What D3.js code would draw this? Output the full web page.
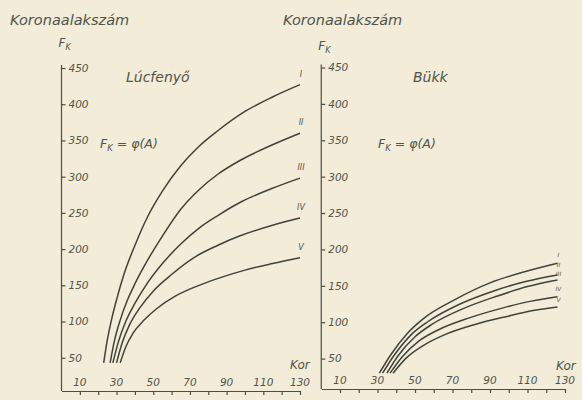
<!DOCTYPE html>
<html>
<head>
<meta charset="utf-8">
<script src="https://cdn.jsdelivr.net/npm/d3@7"></script>
<style>
  body { margin: 0; background: #f2ecd8; }
  svg { display: block; }
  text { font-family: "DejaVu Sans", sans-serif; font-style: italic; fill: #50554b; }
  .axis path, .axis line { stroke: #4a4e45; stroke-width: 1.2; }
  .axis text { font-size: 10.5px; fill: #50554b; }
  .curve { fill: none; stroke: #3f433b; stroke-width: 1.5; }
</style>
</head>
<body>
<div id="chart"></div>
<script>

// curve names (site classes)
var curveNames = ["I", "II", "III", "IV", "V"];

// Lúcfenyő: [age, Fk]
var lucI   = [[23, 43], [25, 75], [27.5, 105], [30, 130], [34, 165], [40, 205], [47, 245], [55, 280], [65, 315], [75, 342], [85, 363], [100, 390], [115, 410], [130, 427]];
var lucII  = [[26.5, 43], [29, 75], [32, 102], [36, 130], [40, 152], [47, 185], [55, 218], [65, 255], [75, 282], [85, 303], [97, 322], [115, 344], [130, 360]];
var lucIII = [[28, 43], [31, 72], [35, 100], [40, 125], [46, 150], [55, 180], [65, 207], [75, 229], [85, 246], [97, 264], [115, 284], [130, 298]];
var lucIV  = [[30, 43], [33, 70], [37, 95], [43, 120], [50, 142], [60, 165], [72, 188], [85, 205], [97, 218], [115, 233], [130, 243]];
var lucV   = [[32, 43], [35, 65], [39, 84], [45, 102], [52, 118], [62, 135], [75, 150], [87, 161], [100, 171], [115, 180], [130, 188]];

// Bükk: [age, Fk]
var bukI   = [[31, 30], [37, 55], [46, 85], [54, 104], [72, 132], [90, 154], [108, 169], [126, 181]];
var bukII  = [[32.7, 30], [39, 55], [48, 83], [57, 101], [74, 125], [92, 143], [109, 156], [126, 165]];
var bukIII = [[35, 30], [41, 54], [50, 80], [59, 97], [76, 119], [94, 136], [110, 149], [126, 158]];
var bukIV  = [[36.7, 30], [43, 52], [52, 74], [62, 89], [79, 106], [96, 119], [112, 129], [126, 135]];
var bukV   = [[38.3, 30], [45, 50], [55, 69], [65, 82], [82, 97], [99, 108], [113, 116], [126, 121]];

var yTicks = [50, 100, 150, 200, 250, 300, 350, 400, 450];
var xTicks = [10, 20, 30, 40, 50, 60, 70, 80, 90, 100, 110, 120, 130];
var xLabels = [10, 30, 50, 70, 90, 110, 130];

var svg = d3.select('#chart').append('svg')
  .attr('width', 582)
  .attr('height', 400);

svg.append('rect').attr('width', 582).attr('height', 400).attr('fill', '#f2ecd8');

function drawPanel(opts) {
  var x = d3.scaleLinear().domain([0, 130]).range(opts.xRange);
  var y = d3.scaleLinear().domain([0, 450]).range(opts.yRange);
  var g = svg.append('g');

  // y axis
  g.append('g')
    .attr('class', 'axis')
    .attr('transform', 'translate(' + x(0) + ',0)')
    .call(d3.axisRight(y).tickValues(yTicks).tickSize(4).tickPadding(3).tickSizeOuter(0))
    .select('.domain').remove();
  g.append('line')
    .attr('x1', x(0)).attr('x2', x(0))
    .attr('y1', y(450) - 3).attr('y2', opts.axisY)
    .attr('stroke', '#4a4e45').attr('stroke-width', 1.2);

  // x axis, labels sit above the line
  g.append('g')
    .attr('class', 'axis')
    .attr('transform', 'translate(0,' + opts.axisY + ')')
    .call(d3.axisBottom(x).tickValues(xTicks).tickSize(4).tickSizeOuter(0).tickFormat(''));

  g.selectAll('.xlab')
    .data(xLabels)
    .enter().append('text')
    .attr('class', 'xlab')
    .attr('x', function(d) { return x(d); })
    .attr('y', opts.axisY - 5)
    .attr('text-anchor', 'middle')
    .style('font-size', '10.5px')
    .text(function(d) { return d; });

  var line = d3.line()
    .x(function(d) { return x(d[0]); })
    .y(function(d) { return y(d[1]); })
    .curve(d3.curveMonotoneX);

  g.selectAll('.curve')
    .data(opts.curves)
    .enter().append('path')
    .attr('class', 'curve')
    .attr('d', line);

  g.selectAll('.clab')
    .data(opts.curves)
    .enter().append('text')
    .attr('x', function(d) { return x(d[d.length - 1][0]) + 1; })
    .attr('y', function(d, i) { return y(d[d.length - 1][1]) - opts.labOff[i]; })
    .attr('text-anchor', 'middle')
    .style('font-size', opts.labSize)
    .text(function(d, i) { return curveNames[i]; });

  // titles
  g.append('text')
    .attr('x', opts.titleX).attr('y', 25)
    .style('font-size', '14.5px')
    .text('Koronaalakszám');

  var fk = g.append('text')
    .attr('x', x(0) - 3).attr('y', opts.fkY)
    .style('font-size', '12px');
  fk.append('tspan').text('F');
  fk.append('tspan').attr('dy', 3).style('font-size', '8px').text('K');

  g.append('text')
    .attr('x', opts.nameX).attr('y', 82)
    .style('font-size', '14px')
    .text(opts.name);

  var f = g.append('text')
    .attr('x', opts.formulaX).attr('y', 148)
    .style('font-size', '12.5px');
  f.append('tspan').text('F');
  f.append('tspan').attr('dy', 3).style('font-size', '8.5px').text('K');
  f.append('tspan').attr('dy', -3).text(' = φ(A)');

  g.append('text')
    .attr('x', opts.korX).attr('y', opts.korY)
    .style('font-size', '12px')
    .text('Kor');
}

drawPanel({
  xRange: [61.5, 300],
  yRange: [394, 68],
  axisY: 391,
  curves: [lucI, lucII, lucIII, lucIV, lucV],
  labOff: [8, 8, 8, 8, 8],
  labSize: '8px',
  titleX: 10,
  fkY: 47,
  name: 'Lúcfenyő',
  nameX: 126,
  formulaX: 100,
  korX: 290,
  korY: 369
});

drawPanel({
  xRange: [321.25, 565],
  yRange: [395, 67.5],
  axisY: 389,
  curves: [bukI, bukII, bukIII, bukIV, bukV],
  labOff: [6, 8, 4, 6, 5],
  labSize: '6px',
  titleX: 283,
  fkY: 50,
  name: 'Bükk',
  nameX: 413,
  formulaX: 378,
  korX: 556,
  korY: 370
});

</script>
</body>
</html>
